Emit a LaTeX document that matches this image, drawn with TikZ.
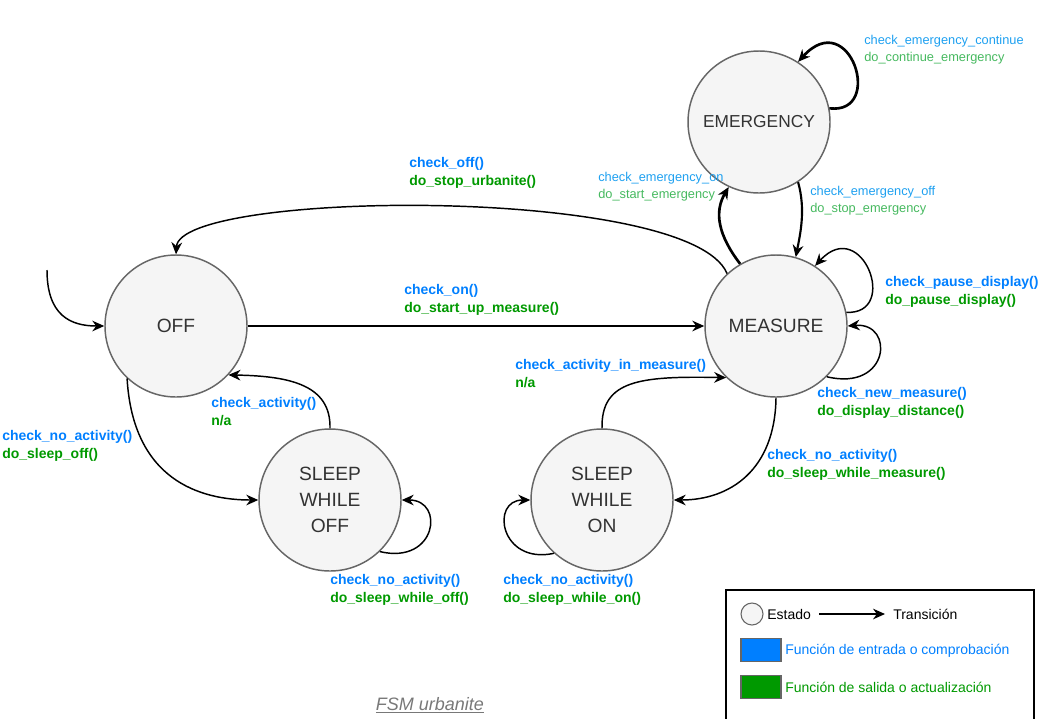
\documentclass[tikz,border=0pt]{standalone}
\usepackage{fontspec}
\setmainfont{Liberation Sans}
\usetikzlibrary{arrows.meta}
\definecolor{azul}{RGB}{0,127,255}
\definecolor{verde}{RGB}{0,153,0}
\definecolor{azulem}{RGB}{30,160,240}
\definecolor{verdeem}{RGB}{70,185,95}
\definecolor{relleno}{RGB}{245,245,245}
\definecolor{borde}{RGB}{102,102,102}
\definecolor{texto}{RGB}{51,51,51}
\definecolor{gris}{RGB}{120,120,120}

\begin{document}
\begin{tikzpicture}[x=0.75pt,y=-0.75pt,
		estado/.style={draw=borde,fill=relleno,circle,line width=1.1pt,minimum size=106.5pt,inner sep=0pt,text=texto,align=center,font=\fontsize{14.4}{19.5}\selectfont},
		etiqueta/.style={anchor=west,inner sep=0pt,align=left,font=\fontsize{10.5}{13.5}\selectfont\bfseries},
		etiquetaem/.style={anchor=west,inner sep=0pt,align=left,font=\fontsize{9.6}{12.75}\selectfont},
		leyenda/.style={anchor=west,inner sep=0pt,font=\fontsize{10.5}{13}\selectfont},
		caja/.style={draw=borde,line width=0.8pt,minimum width=30pt,minimum height=17.25pt,inner sep=0pt},
		flecha/.style={-{Stealth[length=9pt,width=8pt]},line width=1.1pt}]
		\useasboundingbox (0,0) rectangle (1044,718);

		%Nodos
		\node [estado] (off) at (176,326) {OFF};
		\node [estado] (measure) at (776,326) {MEASURE};
		\node [estado,font=\fontsize{13}{19.5}\selectfont] (emergency) at (759,122) {EMERGENCY};
		\node [estado] (sleepoff) at (330,500) {SLEEP\\WHILE\\OFF};
		\node [estado] (sleepon) at (602,500) {SLEEP\\WHILE\\ON};
		\coordinate (inicio) at (47,270);

		%Arcos
		\draw[flecha] (inicio) .. controls (47,315) and (70,326) .. (off.west);
		\draw[flecha] (off)--(measure);
		\draw[flecha] (measure.133) .. controls (690,185) and (180,190) .. (off.north);
		\draw[flecha,line width=2pt] (measure.120) .. controls (718,235) and (714,212) .. (emergency.245);
		\draw[flecha,line width=1.6pt] (emergency.303) .. controls (806,210) and (800,235) .. (measure.74);
		\draw[flecha,line width=2pt] (emergency.11) .. controls (885,115) and (850,5) .. (emergency.57);
		\draw[flecha] (measure.11) .. controls (900,315) and (862,215) .. (measure.57);
		\draw[flecha] (measure.315) .. controls (890,392) and (895,322) .. (measure.0);
		\draw[flecha] (measure.270) .. controls (775,470) and (730,500) .. (sleepon.east);
		\draw[flecha] (sleepon.north) .. controls (601,380) and (640,376) .. (measure.226);
		\draw[flecha] (sleepon.228) .. controls (500,565) and (490,500) .. (sleepon.west);
		\draw[flecha] (off.227) .. controls (133,480) and (200,500) .. (sleepoff.west);
		\draw[flecha] (sleepoff.north) .. controls (331,385) and (290,376) .. (off.317);
		\draw[flecha] (sleepoff.314) .. controls (437,565) and (445,500) .. (sleepoff.east);

		%Etiquetas
		\node [etiqueta] (lbloff) at (409,173) {\textcolor{azul}{check\_off()}\\\textcolor{verde}{do\_stop\_urbanite()}};
		\node [etiqueta] (lblon) at (404,300) {\textcolor{azul}{check\_on()}\\\textcolor{verde}{do\_start\_up\_measure()}};
		\node [etiquetaem] (lblemon) at (598,187) {\textcolor{azulem}{check\_emergency\_on}\\\textcolor{verdeem}{do\_start\_emergency}};
		\node [etiquetaem] (lblemoff) at (810,201) {\textcolor{azulem}{check\_emergency\_off}\\\textcolor{verdeem}{do\_stop\_emergency}};
		\node [etiquetaem] (lblemcont) at (864,50) {\textcolor{azulem}{check\_emergency\_continue}\\\textcolor{verdeem}{do\_continue\_emergency}};
		\node [etiqueta] (lblpause) at (885,292) {\textcolor{azul}{check\_pause\_display()}\\\textcolor{verde}{do\_pause\_display()}};
		\node [etiqueta] (lblnew) at (817,403) {\textcolor{azul}{check\_new\_measure()}\\\textcolor{verde}{do\_display\_distance()}};
		\node [etiqueta] (lblmeas) at (767,465) {\textcolor{azul}{check\_no\_activity()}\\\textcolor{verde}{do\_sleep\_while\_measure()}};
		\node [etiqueta] (lblactm) at (515,374) {\textcolor{azul}{check\_activity\_in\_measure()}\\\textcolor{verde}{n/a}};
		\node [etiqueta] (lblson) at (503,590) {\textcolor{azul}{check\_no\_activity()}\\\textcolor{verde}{do\_sleep\_while\_on()}};
		\node [etiqueta] (lbloffs) at (2,446) {\textcolor{azul}{check\_no\_activity()}\\\textcolor{verde}{do\_sleep\_off()}};
		\node [etiqueta] (lblact) at (211,412) {\textcolor{azul}{check\_activity()}\\\textcolor{verde}{n/a}};
		\node [etiqueta] (lblsoff) at (330,590) {\textcolor{azul}{check\_no\_activity()}\\\textcolor{verde}{do\_sleep\_while\_off()}};

		%Leyenda
		\draw[line width=1.1pt] (726,725)--(726,590)--(1034,590)--(1034,725);
		\node [estado,minimum size=16.5pt,line width=0.8pt] (leycirculo) at (752,614) {};
		\node [leyenda] (leyestado) at (767,614) {Estado};
		\node [leyenda] (leytrans) at (893,614) {Transición};
		\draw[flecha,shorten <=6pt,shorten >=6pt] (leyestado.east)--(leytrans.west);
		\node [caja,fill=azul] (leyazul) at (761,650) {};
		\node [caja,fill=verde] (leyverde) at (761,687) {};
		\node [leyenda,text=azul] (leyentrada) at (785,651) {Función de entrada o comprobación};
		\node [leyenda,text=verde] (leysalida) at (785,687) {Función de salida o actualización};

		%Titulo
		\node [text=gris,font=\fontsize{13.5}{16}\selectfont\itshape] (titulo) at (430,705) {\underline{FSM urbanite}};
\end{tikzpicture}
\end{document}
